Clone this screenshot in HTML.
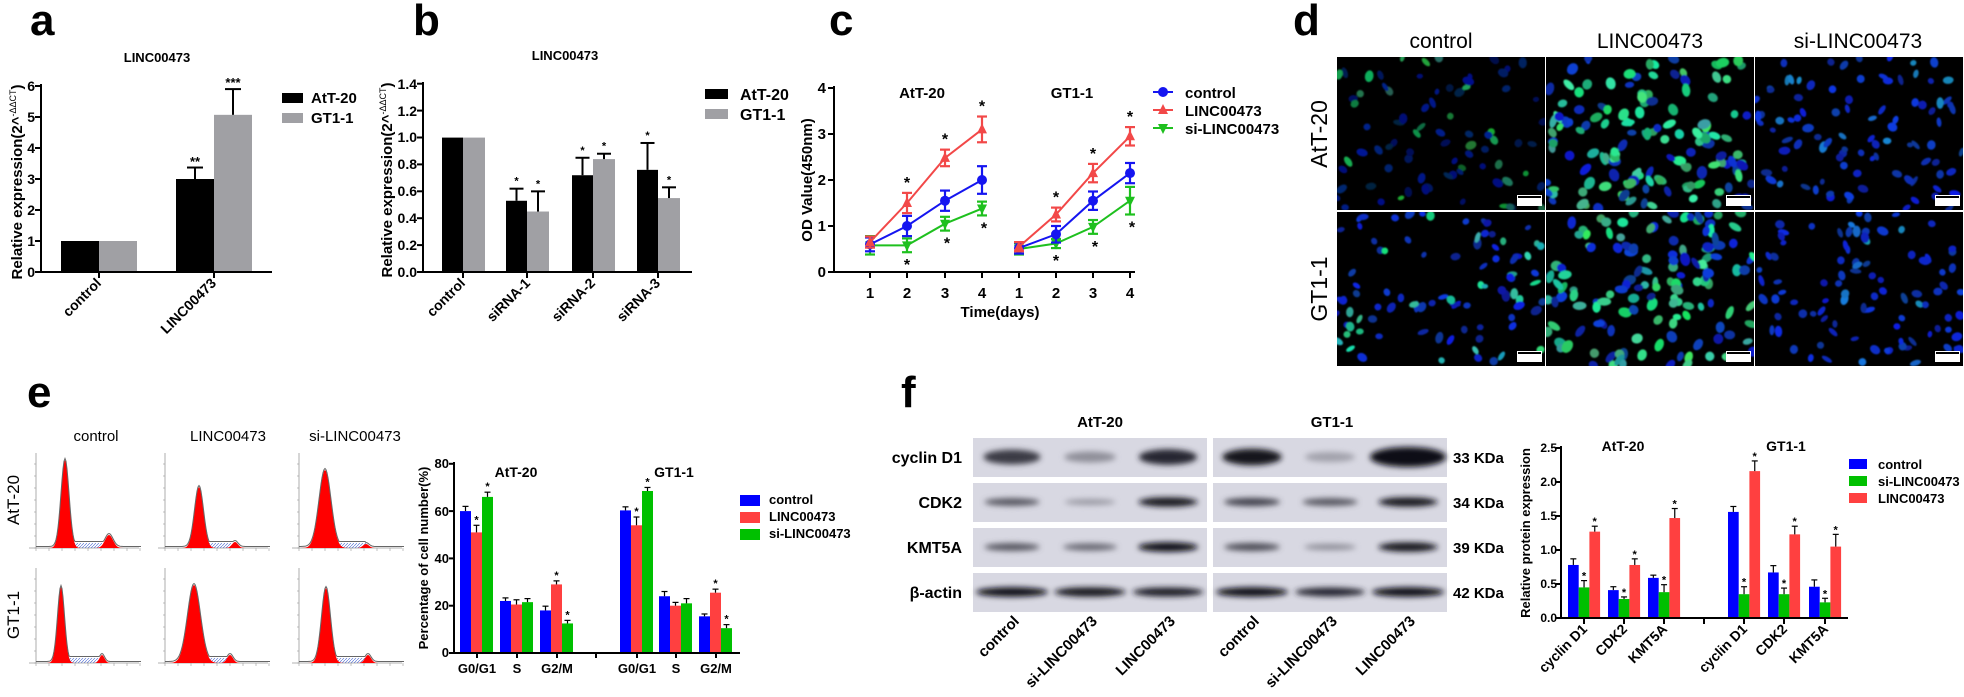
<!DOCTYPE html>
<html><head><meta charset="utf-8"><style>
html,body{margin:0;padding:0;background:#fff;}
svg{display:block;}
text{font-family:"Liberation Sans",sans-serif;}
.b{font-weight:bold;}
</style></head><body>
<svg id="s" width="1964" height="697" viewBox="0 0 1964 697" xmlns="http://www.w3.org/2000/svg">
<defs>
<filter id="bl" x="-50%" y="-100%" width="200%" height="300%"><feGaussianBlur stdDeviation="3"/></filter>
<filter id="nb" x="-50%" y="-50%" width="200%" height="200%"><feGaussianBlur stdDeviation="0.7"/></filter>
<pattern id="hatch" width="3" height="3" patternUnits="userSpaceOnUse"><path d="M0 3L3 0" stroke="#4060d0" stroke-width="0.6"/></pattern>
</defs>
<g id="shapes"></g>
<g id="txt" fill="#000">
<text x="30" y="35" class="b" font-size="44">a</text>
<text x="413" y="35" class="b" font-size="44">b</text>
<text x="829" y="35" class="b" font-size="44">c</text>
<text x="1293" y="35" class="b" font-size="44">d</text>
<text x="27" y="407" class="b" font-size="44">e</text>
<text x="901" y="407" class="b" font-size="44">f</text>

<text x="157" y="62" class="b" font-size="13" text-anchor="middle">LINC00473</text>
<g class="b" font-size="14" text-anchor="end">
<text x="35" y="277">0</text><text x="35" y="246">1</text><text x="35" y="215">2</text><text x="35" y="184">3</text><text x="35" y="153">4</text><text x="35" y="122">5</text><text x="35" y="91">6</text>
</g>
<text transform="translate(22,182) rotate(-90)" class="b" font-size="15" text-anchor="middle">Relative expression(2^<tspan font-size="9" dy="-6" font-weight="normal">-ΔΔCT</tspan><tspan dy="6">)</tspan></text>
<text transform="translate(102,284) rotate(-45)" class="b" font-size="14" text-anchor="end">control</text>
<text transform="translate(217,284) rotate(-45)" class="b" font-size="14" text-anchor="end">LINC00473</text>
<text x="195" y="166" class="b" font-size="13" text-anchor="middle">**</text>
<text x="233" y="87" class="b" font-size="13" text-anchor="middle">***</text>
<text x="311" y="103" class="b" font-size="15">AtT-20</text>
<text x="311" y="123" class="b" font-size="15">GT1-1</text>

<text x="565" y="60" class="b" font-size="13" text-anchor="middle">LINC00473</text>
<g class="b" font-size="14" text-anchor="end">
<text x="417" y="277">0.0</text><text x="417" y="250">0.2</text><text x="417" y="223">0.4</text><text x="417" y="196">0.6</text><text x="417" y="169">0.8</text><text x="417" y="142">1.0</text><text x="417" y="116">1.2</text><text x="417" y="89">1.4</text>
</g>
<text transform="translate(392,180) rotate(-90)" class="b" font-size="15" text-anchor="middle">Relative expression(2^<tspan font-size="9" dy="-6" font-weight="normal">-ΔΔCT</tspan><tspan dy="6">)</tspan></text>
<g class="b" font-size="14" text-anchor="end">
<text transform="translate(466,284) rotate(-45)">control</text>
<text transform="translate(531,284) rotate(-45)">siRNA-1</text>
<text transform="translate(596,284) rotate(-45)">siRNA-2</text>
<text transform="translate(661,284) rotate(-45)">siRNA-3</text>
</g>
<text x="740" y="100" class="b" font-size="16">AtT-20</text>
<text x="740" y="120" class="b" font-size="16">GT1-1</text>

<g class="b" font-size="15" text-anchor="end">
<text x="826" y="277">0</text><text x="826" y="231">1</text><text x="826" y="185">2</text><text x="826" y="139">3</text><text x="826" y="93">4</text>
</g>
<g class="b" font-size="15" text-anchor="middle">
<text x="870" y="298">1</text><text x="907" y="298">2</text><text x="945" y="298">3</text><text x="982" y="298">4</text>
<text x="1019" y="298">1</text><text x="1056" y="298">2</text><text x="1093" y="298">3</text><text x="1130" y="298">4</text>
</g>
<text x="1000" y="317" class="b" font-size="15" text-anchor="middle">Time(days)</text>
<text transform="translate(812,180) rotate(-90)" class="b" font-size="15" text-anchor="middle">OD Value(450nm)</text>
<text x="922" y="98" class="b" font-size="15" text-anchor="middle">AtT-20</text>
<text x="1072" y="98" class="b" font-size="15" text-anchor="middle">GT1-1</text>
<text x="1185" y="98" class="b" font-size="15">control</text>
<text x="1185" y="116" class="b" font-size="15">LINC00473</text>
<text x="1185" y="134" class="b" font-size="15">si-LINC00473</text>

<text x="1441" y="48" font-size="21" text-anchor="middle">control</text>
<text x="1650" y="48" font-size="21" text-anchor="middle">LINC00473</text>
<text x="1858" y="48" font-size="21" text-anchor="middle">si-LINC00473</text>
<text transform="translate(1327,134) rotate(-90)" font-size="23" text-anchor="middle">AtT-20</text>
<text transform="translate(1327,289) rotate(-90)" font-size="23" text-anchor="middle">GT1-1</text>

<text x="96" y="441" font-size="15" text-anchor="middle">control</text>
<text x="228" y="441" font-size="15" text-anchor="middle">LINC00473</text>
<text x="355" y="441" font-size="15" text-anchor="middle">si-LINC00473</text>
<text transform="translate(19,500) rotate(-90)" font-size="17" text-anchor="middle">AtT-20</text>
<text transform="translate(19,615) rotate(-90)" font-size="17" text-anchor="middle">GT1-1</text>
<g class="b" font-size="13" text-anchor="end">
<text x="449" y="657">0</text><text x="449" y="610">20</text><text x="449" y="563">40</text><text x="449" y="516">60</text><text x="449" y="468">80</text>
</g>
<text transform="translate(428,558) rotate(-90)" class="b" font-size="13" text-anchor="middle">Percentage of cell number(%)</text>
<text x="516" y="477" class="b" font-size="14" text-anchor="middle">AtT-20</text>
<text x="674" y="477" class="b" font-size="14" text-anchor="middle">GT1-1</text>
<g class="b" font-size="13" text-anchor="middle">
<text x="477" y="673">G0/G1</text><text x="517" y="673">S</text><text x="557" y="673">G2/M</text>
<text x="637" y="673">G0/G1</text><text x="676" y="673">S</text><text x="716" y="673">G2/M</text>
</g>
<text x="769" y="504" class="b" font-size="13">control</text>
<text x="769" y="521" class="b" font-size="13">LINC00473</text>
<text x="769" y="538" class="b" font-size="13">si-LINC00473</text>

<text x="1100" y="427" class="b" font-size="15" text-anchor="middle">AtT-20</text>
<text x="1332" y="427" class="b" font-size="15" text-anchor="middle">GT1-1</text>
<g class="b" font-size="16" text-anchor="end">
<text x="962" y="463">cyclin D1</text><text x="962" y="508">CDK2</text><text x="962" y="553">KMT5A</text><text x="962" y="598">β-actin</text>
</g>
<g class="b" font-size="15">
<text x="1453" y="463">33 KDa</text><text x="1453" y="508">34 KDa</text><text x="1453" y="553">39 KDa</text><text x="1453" y="598">42 KDa</text>
</g>
<g class="b" font-size="15" text-anchor="end">
<text transform="translate(1020,622) rotate(-45)">control</text>
<text transform="translate(1098,622) rotate(-45)">si-LINC00473</text>
<text transform="translate(1176,622) rotate(-45)">LINC00473</text>
<text transform="translate(1260,622) rotate(-45)">control</text>
<text transform="translate(1338,622) rotate(-45)">si-LINC00473</text>
<text transform="translate(1416,622) rotate(-45)">LINC00473</text>
</g>
<g class="b" font-size="12" text-anchor="end">
<text x="1557" y="622">0.0</text><text x="1557" y="588">0.5</text><text x="1557" y="554">1.0</text><text x="1557" y="520">1.5</text><text x="1557" y="486">2.0</text><text x="1557" y="452">2.5</text>
</g>
<text transform="translate(1530,533) rotate(-90)" class="b" font-size="13" text-anchor="middle">Relative protein expression</text>
<text x="1623" y="451" class="b" font-size="14" text-anchor="middle">AtT-20</text>
<text x="1786" y="451" class="b" font-size="14" text-anchor="middle">GT1-1</text>
<g class="b" font-size="14" text-anchor="end">
<text transform="translate(1588,630) rotate(-45)">cyclin D1</text>
<text transform="translate(1628,630) rotate(-45)">CDK2</text>
<text transform="translate(1668,630) rotate(-45)">KMT5A</text>
<text transform="translate(1748,630) rotate(-45)">cyclin D1</text>
<text transform="translate(1788,630) rotate(-45)">CDK2</text>
<text transform="translate(1829,630) rotate(-45)">KMT5A</text>
</g>
<text x="1878" y="469" class="b" font-size="13">control</text>
<text x="1878" y="486" class="b" font-size="13">si-LINC00473</text>
<text x="1878" y="503" class="b" font-size="13">LINC00473</text>
<g id="stars" class="b" font-size="11" text-anchor="middle"></g>
</g>
</svg>
<script>
var S=[];function R(x,y,w,h,f,ex){S.push('<rect x="'+x+'" y="'+y+'" width="'+w+'" height="'+h+'" fill="'+f+'" '+(ex||'')+'/>');}
function L(x1,y1,x2,y2,c,w){S.push('<line x1="'+x1+'" y1="'+y1+'" x2="'+x2+'" y2="'+y2+'" stroke="'+(c||'#000')+'" stroke-width="'+(w||2)+'"/>');}
var ST=[];function star(x,y,s,fs){ST.push('<text x="'+x+'" y="'+y+'"'+(fs?' font-size="'+fs+'"':'')+'>'+(s||'*')+'</text>');}
function bar(x,w,y0,sc,v,e,f,cap,lw){var t=y0-v*sc;R(x,t,w,y0-t,f);if(e){var c=x+w/2;L(c,t,c,t-e*sc,'#000',lw||2);L(c-cap,t-e*sc,c+cap,t-e*sc,'#000',lw||2);}return t-(e||0)*sc;}
var G='#a0a0a4';
bar(61,38,272,31,1,0,'#000');bar(99,38,272,31,1,0,G);bar(176,38,272,31,3,.37,'#000',8);bar(214,38,272,31,5.07,.83,G,8);
L(41,84,41,273);L(40,272,272,272);[86,117,148,179,210,241,272].forEach(function(y){L(35,y,41,y)});L(99,272,99,278);L(214,272,214,278);
R(282,93,21,10,'#000');R(282,113,21,10,G);
var bv=[[1,0,1,0],[.53,.09,.45,.15],[.72,.13,.84,.04],[.76,.2,.55,.08]];var bx=[442,506,572,637];
bv.forEach(function(d,i){var t1=bar(bx[i],21,272,134.4,d[0],d[1],'#000',7);var t2=bar(bx[i]+21,22,272,134.4,d[2],d[3],G,7);if(i){star(bx[i]+10.5,t1-4,'*');star(bx[i]+32,t2-4,'*');}});
L(423,82,423,273);L(422,272,692,272);for(var k=0;k<8;k++){var y=272-k*26.9;L(417,y,423,y);}bx.forEach(function(x){L(x+21,272,x+21,278)});
R(705,89,23,10,'#000');R(705,109,23,10,G);
var cx=[[870,907,945,982],[1019,1056,1093,1130]];
function cy(v){return 272-v*46;}
var cd=[
 {c:'#1515f0',d:[[.6,1,1.55,2],[.52,.82,1.55,2.15]],e:[[.15,.22,.22,.3],[.12,.18,.2,.22]],m:'o'},
 {c:'#f24848',d:[[.65,1.5,2.48,3.1],[.55,1.25,2.15,2.95]],e:[[.12,.22,.18,.28],[.1,.15,.2,.2]],m:'^'},
 {c:'#1ec01e',d:[[.58,.58,1.05,1.38],[.5,.62,.98,1.55]],e:[[.2,.15,.15,.15],[.12,.1,.15,.3]],m:'v'}];
function mk(m,x,y,c){if(m=='o')S.push('<circle cx="'+x+'" cy="'+y+'" r="5" fill="'+c+'"/>');else if(m=='^')S.push('<path d="M'+x+' '+(y-6)+'L'+(x+5)+' '+(y+4)+'L'+(x-5)+' '+(y+4)+'Z" fill="'+c+'"/>');else S.push('<path d="M'+x+' '+(y+6)+'L'+(x+5)+' '+(y-4)+'L'+(x-5)+' '+(y-4)+'Z" fill="'+c+'"/>');}
[2,0,1].forEach(function(si){var s=cd[si];for(var p=0;p<2;p++){var pts=s.d[p].map(function(v,i){return cx[p][i]+','+cy(v)}).join(' ');S.push('<polyline points="'+pts+'" fill="none" stroke="'+s.c+'" stroke-width="2"/>');
 s.d[p].forEach(function(v,i){var x=cx[p][i],e=s.e[p][i];L(x,cy(v-e),x,cy(v+e),s.c,2.2);L(x-5,cy(v-e),x+5,cy(v-e),s.c,2.2);L(x-5,cy(v+e),x+5,cy(v+e),s.c,2.2);mk(s.m,x,cy(v),s.c);});}});
for(var p=0;p<2;p++)for(var i=1;i<4;i++){var r=cd[1],g=cd[2];star(cx[p][i],cy(r.d[p][i]+r.e[p][i])-5,'*',16);star(cx[p][i]+(i==1?0:2),cy(g.d[p][i]-g.e[p][i])+18,'*',16);}
L(834,86,834,273);L(833,272,1135,272);for(var k=0;k<5;k++)L(828,272-k*46,834,272-k*46);cx[0].concat(cx[1]).forEach(function(x){L(x,272,x,278)});
[['#1515f0','o',92],['#f24848','^',110],['#1ec01e','v',128]].forEach(function(a){L(1153,a[2],1173,a[2],a[0],2);mk(a[1],1163,a[2],a[0]);});
var seed=7;function rnd(){seed=(seed*16807)%2147483647;return seed/2147483647;}
var cols=[1337,1546,1755],rows=[[57,210],[212,366]];var cw=[208,208,208];
var types=['ctl','linc','si'];
function rc(r,g,b){return 'rgb('+(r|0)+','+(g|0)+','+(b|0)+')';}
for(var r=0;r<2;r++)for(var c=0;c<3;c++){var x0=cols[c],y0=rows[r][0],h=rows[r][1]-rows[r][0],w=cw[c];
 S.push('<svg x="'+x0+'" y="'+y0+'" width="'+w+'" height="'+h+'"><rect width="'+w+'" height="'+h+'" fill="#000"/><g filter="url(#nb)">');
 var n=types[c]=='linc'?140:(types[c]=='si'?95:(r==0?80:90));
 for(var i=0;i<n;i++){var x=rnd()*w,y=rnd()*h,rx=2.2+rnd()*2.2,ry=3+rnd()*3,a=rnd()*180;var col;var q=rnd();
  if(types[c]=='linc'){rx+=0.8;ry+=1;col=q<0.6?rc(20+rnd()*50,150+rnd()*90,90+rnd()*80):rc(10,20+rnd()*50,140+rnd()*80);}
  else if(types[c]=='ctl'){if(r==0){col=q<0.35?rc(10+rnd()*30,90+rnd()*90,40+rnd()*60):rc(5,10+rnd()*30,60+rnd()*90);}
   else{col=q<0.3?rc(20+rnd()*40,150+rnd()*80,120+rnd()*70):rc(10,20+rnd()*40,140+rnd()*90);}}
  else {col=q<0.12?rc(20,100+rnd()*60,170+rnd()*60):rc(10,25+rnd()*40,140+rnd()*90);}
  S.push('<ellipse cx="'+x.toFixed(1)+'" cy="'+y.toFixed(1)+'" rx="'+rx.toFixed(1)+'" ry="'+ry.toFixed(1)+'" transform="rotate('+(a|0)+' '+x.toFixed(1)+' '+y.toFixed(1)+')" fill="'+col+'"/>');}
 S.push('</g><rect x="'+(w-28)+'" y="'+(h-15)+'" width="25" height="11" fill="#fff"/><rect x="'+(w-27)+'" y="'+(h-14)+'" width="23" height="2" fill="#000"/></svg>');}
var hp=[[29,548,[29,88,4],[73,13,4]],[158,548,[34,61,4.5],[70,6,3]],[292,548,[26,78,6],[67,4,3]],
        [29,663,[25,76,3.5],[66,8,2.5]],[158,663,[29,78,6.5],[65,8,3]],[292,663,[27,75,4.5],[69,8,3]]];
hp.forEach(function(h){var x0=h[0],y0=h[1];L(x0+7,y0-95,x0+7,y0,'#999',0.8);L(x0,y0,x0+110,y0,'#999',0.8);
 for(var t=0;t<9;t++)L(x0+7+t*13,y0,x0+7+t*13,y0+3,'#999',0.6);for(var t=0;t<8;t++)L(x0+5,y0-t*12,x0+7,y0-t*12,'#999',0.6);
 function g(p,x){return p[1]*Math.exp(-Math.pow(x-p[0],2)/(2*p[2]*p[2]));}
 var d1='M',d3='M',o='M';for(var x=0;x<=105;x+=1){var a=g(h[2],x),b=g(h[3],x),sp=(x>h[2][0]&&x<h[3][0])?5:0;
  d1+=(x0+7+x)+' '+(y0-a).toFixed(1)+' L';d3+=(x0+7+x)+' '+(y0-b).toFixed(1)+' L';o+=(x0+7+x)+' '+(y0-Math.max(a,b,sp)-1.5).toFixed(1)+' L';}
 S.push('<rect x="'+(x0+7+h[2][0])+'" y="'+(y0-5)+'" width="'+(h[3][0]-h[2][0])+'" height="5" fill="url(#hatch)"/>');
 S.push('<path d="'+d1.slice(0,-2)+' Z" fill="#f00"/>');S.push('<path d="'+d3.slice(0,-2)+' Z" fill="#f00"/>');
 S.push('<path d="'+o.slice(0,-2)+'" fill="none" stroke="#666" stroke-width="1"/>');});
var eb=[[60,51,66],[22,20.5,21.5],[18,29,12.5],[60.3,54,68.5],[24,20,21],[15.5,25.5,10.5]];
var ee=[[2,3,2],[1.3,2,1.5],[1.8,1.5,1.3],[1.5,3.5,1.5],[2,1.4,2],[1,1.5,1.5]];
var ex=[460,500,540,620,659,699],ec=['#0000ff','#ff4040','#00c000'];
var estar={0:[1,2],2:[1,2],3:[1,2],5:[1,2]};
eb.forEach(function(d,i){d.forEach(function(v,j){var t=bar(ex[i]+j*11,11,653,2.365,v,ee[i][j],ec[j],3,1.2);if(estar[i]&&estar[i].indexOf(j)>=0){star(ex[i]+j*11+5.5,t-2,'*');}});});
L(454,462,454,654);L(453,653,740,653);for(var k=0;k<5;k++)L(449,653-k*47.3,454,653-k*47.3);[477,517,557,596,637,676,716].forEach(function(x){L(x,653,x,658)});
R(740,495,20,11,'#0000ff');R(740,512,20,11,'#ff4040');R(740,529,20,11,'#00c000');
var bl=[[973,1207],[1213,1447]],by=[438,483,528,573];
bl.forEach(function(b){by.forEach(function(y){R(b[0],y,b[1]-b[0],39,'#d8d8e2');});});
var lanes=[[1012,1090,1168],[1252,1330,1408]];
var inten={0:[[.75,.3,.85],[.95,.2,1]],1:[[.6,.25,.95],[.7,.6,.95]],2:[[.6,.5,1],[.65,.3,.95]],3:[[1,.95,.9],[1,.85,1]]};
S.push('<g filter="url(#bl)">');
for(var r=0;r<4;r++)for(var p=0;p<2;p++)for(var l=0;l<3;l++){var v=inten[r][p][l];var cx2=lanes[p][l],cyy=by[r]+19;var hw=(r==3?36:30)*(0.8+0.2*v),hh=(r==0?14:8)*(0.6+0.6*v);
 if(r==0&&p==1&&l==2){hw=38;hh=20;}
 S.push('<ellipse cx="'+cx2+'" cy="'+cyy+'" rx="'+hw+'" ry="'+hh/2+'" fill="rgb('+(Math.round(200-190*v))+','+(Math.round(200-190*v))+','+(Math.round(210-190*v))+')"/>');}
S.push('</g>');
var fv=[[.78,.45,1.27],[.41,.28,.78],[.59,.38,1.47],[1.56,.35,2.16],[.67,.35,1.23],[.46,.23,1.05]];
var fe=[[.09,.1,.08],[.05,.03,.09],[.04,.11,.14],[.08,.11,.15],[.1,.09,.12],[.1,.06,.18]];
var fx=[1568,1608,1648,1728,1768,1809],fc=['#0000ff','#00c000','#ff4040'];
fv.forEach(function(d,i){d.forEach(function(v,j){var t=bar(fx[i]+j*10.7,10.7,618,68,v,fe[i][j],fc[j],3,1.2);if(j>0)star(fx[i]+j*10.7+5.3,t-1,'*');});});
L(1561,446,1561,619);L(1560,618,1848,618);for(var k=0;k<6;k++)L(1556,618-k*34,1561,618-k*34);[1584,1624,1664,1704,1744,1784,1825].forEach(function(x){L(x,618,x,624)});
R(1849,459,18,10,'#0000ff');R(1849,476,18,10,'#00c000');R(1849,493,18,10,'#ff4040');
document.getElementById('shapes').innerHTML=S.join('');
document.getElementById('stars').innerHTML=ST.join('');
</script>
</body></html>
